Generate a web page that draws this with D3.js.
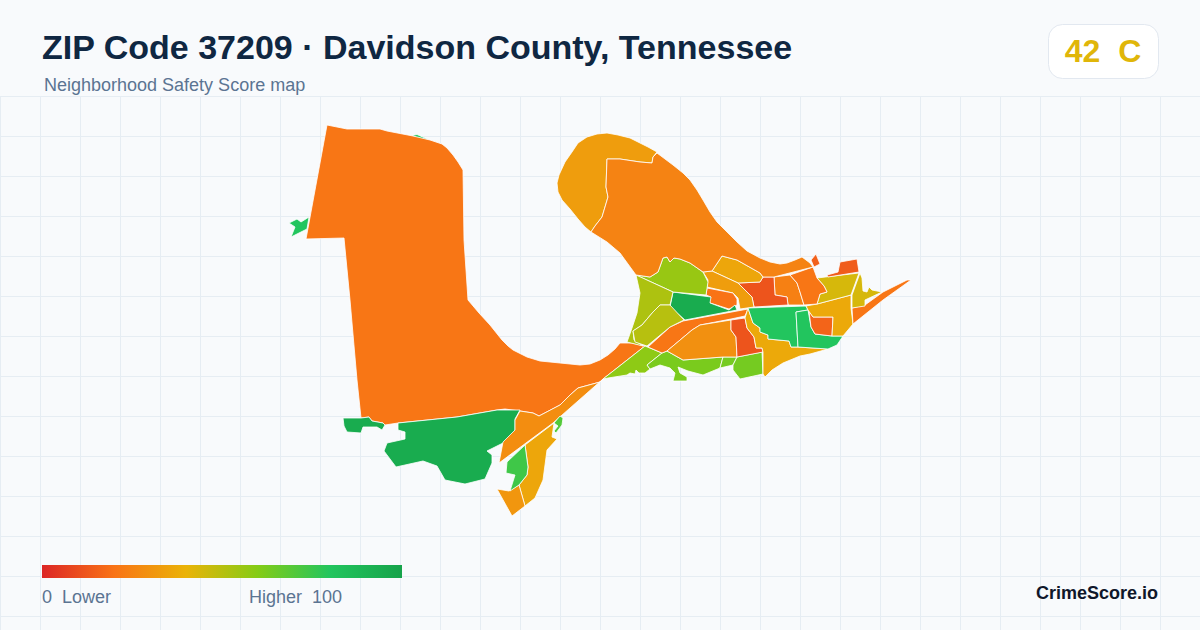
<!DOCTYPE html>
<html>
<head>
<meta charset="utf-8">
<title>ZIP Code 37209</title>
<script src="https://cdn.jsdelivr.net/npm/d3@7/dist/d3.min.js"></script>
<style>
  html, body { margin: 0; padding: 0; background: #f8fafc; }
  svg { display: block; }
  text { font-family: "Liberation Sans", Arial, sans-serif; white-space: pre; }
</style>
</head>
<body>
<svg id="chart" width="1200" height="630"></svg>
<script>
// ─── DATA ────────────────────────────────────────────────────────────────────
const titleText = "ZIP Code 37209 · Davidson County, Tennessee";
const subtitleText = "Neighborhood Safety Score map";
const overallScore = 42;
const overallGrade = "C";
const brandText = "CrimeScore.io";

const scaleStops = [0, 20, 40, 60, 80, 100];
const scaleColors = ["#dc2626", "#f97316", "#eab308", "#84cc16", "#22c55e", "#16a34a"];

// neighborhood scores, same order as tractShapes
const tractScores = [
  80, 80, 21, 95, 28, 36, 31, 74, 70, 58, 62, 63, 63, 21, 29, 12, 37, 80, 80, 16, 37,
  21, 44, 44, 14, 15, 24, 21, 12, 36, 33, 20, 95, 56, 52, 33, 25, 50
];

// outlines in map units
const tractShapes = [
  [[[412,135.5],[417,134.5],[425,138],[429,139.5],[420,139]]],
  [[[289,223],[297,219],[301,222],[309,217],[307,229],[291,237],[295,227]]],
  [[[327,125],[347,129],[380,129],[387,131],[413,136],[430,140],[442,144],[447,148],[453,155],[458,162],[463,170],[464,240],[468,300],[479,313],[490,325],[502,340],[508,346],[513,350],[527,357],[540,361],[580,365],[590,364],[600,360],[608,355],[615,349],[620,343],[632,343],[645,346],[603,379],[600,382],[578,388],[570,395],[560,405],[539,416],[533,413],[520,411],[505,409],[497,410],[457,417],[398,423],[385,425],[383,423],[372,421],[369,417],[361,418],[357,380],[350,300],[344,238],[306,239]]],
  [[[[398,423],[398,430],[405,432],[405,439],[387,443],[384,451],[396,467],[423,461],[437,466],[445,480],[465,484],[485,479],[492,463],[492,455],[487,451],[503,443],[515,432],[515,419],[520,410],[497,410],[457,417]]],
   [[[343,418],[361,418],[369,417],[372,421],[383,423],[385,425],[382,430],[377,427],[363,427],[361,433],[347,432],[344,426]]]],
  [[[520,411],[533,413],[539,416],[560,405],[570,395],[578,388],[600,382],[603,379],[553,423],[499,463],[503,442],[515,430],[515,420]]],
  [[[525,445],[528,467],[527,475],[519,485],[525,506],[535,498],[543,480],[547,450],[557,439],[552,437],[554,423]]],
  [[[497,489],[509,491],[519,485],[525,506],[512,516]]],
  [[[525,445],[507,462],[506,473],[515,475],[510,491],[519,485],[527,475],[528,467]]],
  [[[560,416],[563,418],[562,425],[556,433],[554,431],[558,426],[554,423]]],
  [[[603,379],[645,346],[662,353],[647,365],[650,369],[645,373],[639,373],[636,370],[635,374],[630,373],[627,375],[608,378]]],
  [[[647,365],[662,353],[667,351],[683,360],[723,357],[720,368],[703,375],[688,371],[678,367],[680,373],[687,377],[687,381],[673,381],[675,373],[670,368],[660,365],[650,369]]],
  [[[723,357],[737,357],[733,365],[720,368]]],
  [[[737,357],[762,352],[763,374],[740,379],[733,370],[733,365]]],
  [[[648,347],[670,327],[683,321],[748,309],[745,316],[731,319],[700,325],[692,330],[667,351],[662,353]]],
  [[[667,351],[692,330],[700,325],[731,320],[731,330],[736,337],[737,357],[723,357],[683,360]]],
  [[[731,320],[745,318],[747,328],[754,337],[756,348],[762,348],[763,352],[737,357],[736,337],[731,330]]],
  [[[745,318],[748,308],[753,323],[760,328],[760,332],[768,335],[768,339],[789,341],[791,347],[798,347],[828,349],[810,354],[800,356],[783,363],[772,370],[765,377],[763,374],[763,352],[762,348],[756,348],[754,337],[747,328]]],
  [[[748,308],[806,306],[808,310],[796,312],[798,347],[791,347],[789,341],[768,339],[768,335],[760,332],[760,328],[753,323]]],
  [[[796,312],[808,310],[811,327],[815,334],[832,336],[843,336],[837,345],[828,349],[798,347]]],
  [[[809,311],[813,317],[833,317],[832,336],[815,334],[811,327]]],
  [[[806,306],[817,304],[851,295],[851,308],[853,324],[843,336],[832,336],[833,317],[813,317],[808,310]]],
  [[[852,308],[865,305],[883,292],[907,280],[911,280],[883,300],[853,324]]],
  [[[860,273],[852,295],[852,308],[865,306],[865,300],[882,292],[872,290],[869,287],[867,292],[863,291],[862,278]]],
  [[[817,278],[859,273],[851,295],[817,304],[820,294],[827,292],[824,286]]],
  [[[827,275],[838,272],[840,262],[857,259],[859,272],[828,277]]],
  [[[811,260],[816,254],[820,264],[814,267]]],
  [[[774,277],[790,275],[797,283],[800,292],[804,305],[788,305],[787,297],[775,295]]],
  [[[790,275],[813,267],[817,278],[824,286],[827,292],[820,294],[817,304],[804,305],[800,292],[797,283]]],
  [[[738,283],[760,282],[763,277],[774,277],[775,295],[787,297],[788,305],[754,307],[752,297],[745,290]]],
  [[[722,256],[737,260],[760,273],[763,277],[760,282],[738,283],[712,271]]],
  [[[712,271],[738,283],[745,290],[752,297],[754,307],[740,309],[738,298],[733,293],[707,287],[708,280],[703,272]]],
  [[[707,288],[733,293],[737,299],[737,305],[729,309],[707,302],[711,297],[706,295]]],
  [[[673,292],[711,297],[710,303],[729,310],[735,305],[737,310],[685,320],[670,307]]],
  [[[636,275],[650,277],[658,272],[663,258],[667,257],[670,262],[674,258],[680,259],[690,263],[703,272],[708,282],[706,295],[673,292]]],
  [[[636,275],[673,292],[670,305],[660,305],[653,312],[642,325],[633,331],[634,340],[643,346],[627,342],[632,328],[637,313],[640,293]]],
  [[[657,152],[648,147],[640,143],[630,138],[618,135],[607,133],[597,134],[587,137],[578,143],[572,152],[565,162],[559,175],[557,183],[558,192],[562,200],[570,209],[578,219],[585,227],[591,232],[595,226],[602,217],[608,197],[606,187],[607,159],[620,159],[640,162],[652,163],[653,157]]],
  [[[657,153],[673,165],[683,173],[690,180],[697,190],[703,200],[710,212],[717,222],[727,232],[737,242],[747,251],[760,258],[770,262],[780,264],[787,263],[795,260],[802,257],[810,263],[813,267],[774,277],[763,277],[760,273],[737,260],[722,256],[712,271],[703,272],[690,263],[680,259],[674,258],[670,262],[667,257],[663,258],[658,272],[650,277],[636,275],[620,253],[607,242],[591,232],[595,226],[602,217],[608,197],[606,187],[607,159],[620,159],[640,162],[652,163],[653,157]]],
  [[[660,305],[670,305],[684,320],[670,327],[647,346],[635,342],[633,331],[642,325],[653,312]]]
];

// ─── SETUP ───────────────────────────────────────────────────────────────────
const width = 1200, height = 630;
const gridTop = 96.5, gridStep = 40;

const svg = d3.select("#chart");
const color = d3.scaleLinear().domain(scaleStops).range(scaleColors);

svg.append("rect").attr("width", width).attr("height", height).attr("fill", "#f8fafc");

// grid
const gridX = d3.range(0.5, width, gridStep);
const gridY = d3.range(gridTop, height, gridStep);
svg.append("g").selectAll("line").data(gridX).join("line")
  .attr("x1", d => d).attr("x2", d => d).attr("y1", gridTop).attr("y2", height)
  .attr("stroke", "#e6edf3").attr("stroke-width", 1);
svg.append("g").selectAll("line").data(gridY).join("line")
  .attr("x1", 0).attr("x2", width).attr("y1", d => d).attr("y2", d => d)
  .attr("stroke", "#e6edf3").attr("stroke-width", 1);

// ─── MAP ─────────────────────────────────────────────────────────────────────
const projection = d3.geoIdentity().scale(1).translate([0, 0]);
const path = d3.geoPath().projection(projection);

// d3 expects rings to repeat the first point at the end
const closeRing = ring => ring.concat([ring[0]]);

const features = tractShapes.map((coords, i) => {
  const isMulti = Array.isArray(coords[0][0][0]);
  return {
    type: "Feature",
    properties: { score: tractScores[i] },
    geometry: isMulti
      ? { type: "MultiPolygon", coordinates: coords.map(poly => poly.map(closeRing)) }
      : { type: "Polygon", coordinates: coords.map(closeRing) }
  };
});

svg.append("g").selectAll("path").data(features).join("path")
  .attr("d", path)
  .attr("fill", d => color(d.properties.score))
  .attr("stroke", "#fff")
  .attr("stroke-width", 0.8)
  .attr("stroke-linejoin", "round");

// ─── HEADER ──────────────────────────────────────────────────────────────────
svg.append("text").attr("x", 42).attr("y", 59)
  .attr("font-size", 34).attr("font-weight", 700).attr("fill", "#0f2742")
  .text(titleText);
svg.append("text").attr("x", 44).attr("y", 91)
  .attr("font-size", 18).attr("fill", "#5b7492")
  .text(subtitleText);

// score badge
svg.append("rect").attr("x", 1048.5).attr("y", 24.5).attr("width", 110).attr("height", 54).attr("rx", 14)
  .attr("fill", "#fff").attr("stroke", "#e2e8f0");
svg.append("text").attr("x", 1103).attr("y", 62).attr("text-anchor", "middle")
  .attr("font-size", 32).attr("font-weight", 700).attr("fill", color(overallScore))
  .text(`${overallScore}  ${overallGrade}`);

// ─── LEGEND ──────────────────────────────────────────────────────────────────
const legendScale = d3.scaleLinear().domain([0, 100]).range([42, 402]);
const gradient = svg.append("defs").append("linearGradient").attr("id", "legend-gradient");
gradient.selectAll("stop").data(scaleStops).join("stop")
  .attr("offset", d => `${d}%`)
  .attr("stop-color", d => color(d));
svg.append("rect")
  .attr("x", legendScale(0)).attr("y", 565)
  .attr("width", legendScale(100) - legendScale(0)).attr("height", 13)
  .attr("fill", "url(#legend-gradient)");

svg.append("text").attr("x", 42).attr("y", 603)
  .attr("font-size", 18).attr("fill", "#5b7492").text("0  Lower");
svg.append("text").attr("x", 342).attr("y", 603).attr("text-anchor", "end")
  .attr("font-size", 18).attr("fill", "#5b7492").text("Higher  100");

svg.append("text").attr("x", 1158).attr("y", 599).attr("text-anchor", "end")
  .attr("font-size", 18).attr("font-weight", 700).attr("fill", "#0f172a")
  .text(brandText);
</script>
</body>
</html>
